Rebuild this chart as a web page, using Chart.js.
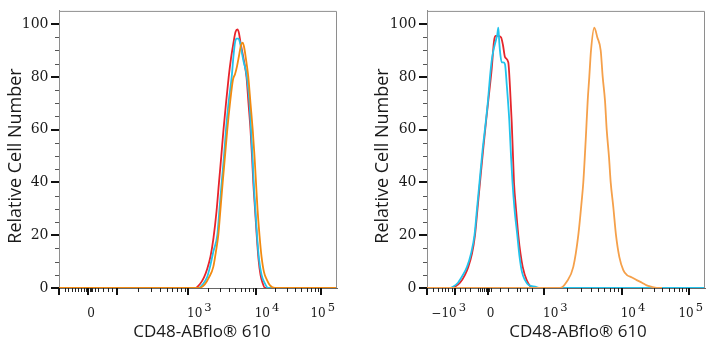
<!DOCTYPE html>
<html>
<head>
<meta charset="utf-8">
<script src="https://cdn.jsdelivr.net/npm/chart.js@4.4.1/dist/chart.umd.min.js"></script>
<style>
  html, body { margin: 0; padding: 0; background: #fff; }
  .wrap { display: flex; width: 719px; height: 350px; }
  .panel { position: relative; height: 350px; }
</style>
</head>
<body>
<div class="wrap">
  <div class="panel" style="width:360px"><canvas id="left-hist"></canvas></div>
  <div class="panel" style="width:359px"><canvas id="right-hist"></canvas></div>
</div>
<script>
// x is the display channel along the biexponential axis (0 .. 278)
const xMax = 278;
const yMax = 105;
const yTickValues = [0, 20, 40, 60, 80, 100];
const yMinorStep = 5;
const xTitle = "CD48-ABflo® 610";
const yTitle = "Relative Cell Number";

// left panel axis
const leftTickPos = [0, 29, 58, 129, 196.7, 262];
const leftTickText = ["", "0", "", "10^3", "10^4", "10^5"];
const leftDecades = [58, 129, 196.7, 262];
const leftMinor = [6, 9, 13, 16, 19, 22, 25, 26.5, 27.5, 30.5, 31.5, 33, 36, 39, 44, 49, 53];

// right panel axis
const rightTickPos = [0, 28, 60.5, 117, 194.7, 262];
const rightTickText = ["", "−10^3", "0", "10^3", "10^4", "10^5"];
const rightDecades = [117, 194.7, 262];
const rightMinor = [6, 11, 15, 18, 21, 25, 33, 38, 43, 51, 53, 55, 57, 58.5, 62, 63.5, 73, 81, 90, 93, 100, 105];

// histograms, [channel, relative count]
const leftRed = [[0, 0], [136, 0], [141, 1.5], [145, 4], [148, 7], [151.5, 12], [154.5, 19], [157.5, 29], [160, 40], [162.3, 50], [164.5, 60], [167, 70], [169.7, 80], [172, 87], [174.5, 93], [176.5, 97], [178.5, 98], [180, 96.5], [181.5, 93], [183, 90], [185, 86], [187.5, 80], [189.5, 70], [191.5, 60], [193, 50], [194.3, 40], [196, 30], [197.7, 20], [199.5, 11], [201.5, 5], [203.5, 2], [206, 0], [278, 0]];
const leftCyan = [[0, 0], [139, 0], [144, 1.5], [148, 4], [151, 8], [154.5, 14], [158.3, 20], [160.5, 30], [162.7, 40], [165, 50], [167, 60], [169.5, 70], [172.7, 80], [174.5, 88], [176, 93], [177.5, 94.5], [179.5, 94.5], [181, 93], [182.5, 90], [184.5, 86], [187, 82], [188.5, 78], [190.5, 70], [192, 60], [193.5, 50], [194.7, 40], [196.3, 30], [198, 20], [200, 11], [202.5, 5], [205.5, 2], [209, 0], [278, 0]];
const leftOrange = [[0, 0], [140, 0], [146, 1.5], [150, 4], [154.3, 8], [157, 14], [159.3, 20], [161.5, 30], [163.7, 40], [166, 50], [168.3, 60], [171, 70], [174, 79], [176, 81], [178, 84], [180, 88], [182, 92], [183.7, 93], [185, 91.5], [186.5, 88], [188, 84], [189.3, 80], [191.5, 70], [193.7, 60], [195.5, 50], [197, 40], [198.5, 30], [200.5, 20], [202.5, 12], [205, 6], [208, 3], [211, 1], [216, 0], [278, 0]];

const rightRed = [[0, 0], [24, 0], [28, 0.5], [33, 2], [38, 5], [41.3, 8], [45, 13], [48, 20], [50.5, 30], [53, 40], [56.3, 53], [59, 63], [61.3, 71], [64.7, 83], [67, 93.5], [68.5, 95.5], [71, 95.5], [74, 95], [76, 92], [78, 87.5], [81.3, 85.5], [83, 76], [84.7, 63], [86, 50], [87, 40], [89, 30], [91.3, 20], [93.5, 13], [95.7, 8], [99.7, 3], [106.3, 0], [278, 0]];
const rightCyan = [[0, 0], [22, 0], [26, 0.5], [31, 2], [36, 5], [40, 8], [44, 13], [47.5, 20], [50, 30], [52.5, 40], [55.5, 52], [58.5, 62], [61, 71], [63, 80], [65, 87], [67, 91], [69, 94], [70.3, 96], [71.3, 98.7], [72.3, 93], [73.5, 88], [74.7, 85.5], [76.3, 85.5], [78, 84.8], [79.7, 77.3], [82.3, 63.4], [84, 50], [85.5, 40], [87.5, 30], [90.3, 20], [92.5, 12], [95, 6], [98, 3], [102, 1], [108, 0.5], [113, 0], [278, 0]];
const rightOrange = [[0, 0], [133, 0], [139.7, 2.4], [146.3, 8], [151.3, 20], [154.7, 33], [156.3, 40], [158.7, 56], [160.7, 71], [162.3, 80], [164, 90], [167.3, 98.7], [170.3, 95], [173.7, 90], [175.7, 80], [178, 71], [179.7, 60], [182, 49.6], [183.7, 40], [186.3, 30.7], [189, 20], [192.3, 11.8], [196.3, 6.8], [199.7, 5], [205, 4], [209.7, 3], [215, 2], [219.7, 1], [224, 0.5], [229.7, 0], [235, 0]];

const toPoints = (pairs) => pairs.map(([x, y]) => ({ x, y }));

const flowAxes = {
  id: "flowAxes",
  afterDraw(chart, _args, o) {
    const { ctx, chartArea: a } = chart;
    const xs = chart.scales.x;
    const ys = chart.scales.y;
    ctx.save();

    // frame top / right
    ctx.strokeStyle = "#8e8e8e";
    ctx.lineWidth = 1;
    ctx.beginPath();
    ctx.moveTo(a.left, a.top + 0.5);
    ctx.lineTo(a.right - 0.5, a.top + 0.5);
    ctx.lineTo(a.right - 0.5, a.bottom);
    ctx.stroke();

    const mark = (x0, y0, x1, y1, w, c) => {
      ctx.strokeStyle = c;
      ctx.lineWidth = w;
      ctx.beginPath();
      ctx.moveTo(x0, y0);
      ctx.lineTo(x1, y1);
      ctx.stroke();
    };

    // x ticks
    const minors = o.minor.slice();
    for (let i = 0; i < o.decades.length - 1; i++) {
      const d0 = o.decades[i], d1 = o.decades[i + 1];
      for (let k = 2; k <= 9; k++) minors.push(d0 + Math.log10(k) * (d1 - d0));
    }
    minors.forEach((v) => {
      const px = Math.round(xs.getPixelForValue(v)) + 0.5;
      mark(px, a.bottom, px, a.bottom + 4, 1, "#222");
    });
    o.tickPos.forEach((v) => {
      const px = Math.round(xs.getPixelForValue(v));
      mark(px, a.bottom, px, a.bottom + 7, 2, "#111");
    });

    // y ticks
    for (let v = 0; v <= 100; v += yMinorStep) {
      const py = Math.round(ys.getPixelForValue(v));
      if (v % 20 === 0) mark(a.left - 8, py, a.left, py, 2, "#111");
      else mark(a.left - 4, py + 0.5, a.left, py + 0.5, 1, "#555");
    }

    // x tick labels, exponent raised
    ctx.fillStyle = "#1a1a1a";
    ctx.textBaseline = "alphabetic";
    ctx.textAlign = "left";
    o.tickText.forEach((txt, i) => {
      if (!txt) return;
      const px = xs.getPixelForValue(o.tickPos[i]);
      const [base, exp] = txt.split("^");
      ctx.font = "12px 'DejaVu Serif'";
      const wb = ctx.measureText(base).width;
      ctx.font = "11.5px 'DejaVu Serif'";
      const we = exp ? ctx.measureText(exp).width + 2 : 0;
      let left;
      if (!exp) left = px + 3 - wb / 2;
      else if (base.startsWith("−")) left = px + 11 - wb - we;
      else left = px - 1;
      left = Math.min(left, a.right - 2 - wb - we);
      ctx.font = "12px 'DejaVu Serif'";
      ctx.fillText(base, left, 317);
      if (exp) {
        ctx.font = "11.5px 'DejaVu Serif'";
        ctx.fillText(exp, left + wb + 2, 311);
      }
    });

    // axis titles
    ctx.textAlign = "center";
    ctx.textBaseline = "middle";
    ctx.font = "17px 'Open Sans'";
    ctx.fillText(xTitle, a.left + o.xTitleX, 332);
    ctx.save();
    ctx.translate(o.yTitleX, 156);
    ctx.rotate(-Math.PI / 2);
    ctx.font = "18px 'Open Sans'";
    ctx.fillText(yTitle, 0, 0);
    ctx.restore();

    ctx.restore();
  },
};

function makeChart(id, sets, axis, yAxisWidth, padRight) {
  const canvas = document.getElementById(id);
  if (!canvas) return;
  new Chart(canvas, {
    type: "line",
    data: {
      datasets: sets.map((s) => ({
        data: toPoints(s.data),
        borderColor: s.color,
        borderWidth: 1.8,
        pointRadius: 0,
        fill: false,
        cubicInterpolationMode: "monotone",
      })),
    },
    options: {
      responsive: true,
      maintainAspectRatio: false,
      animation: false,
      events: [],
      layout: { padding: { top: 10, right: padRight, left: 0, bottom: 0 } },
      plugins: { legend: { display: false }, tooltip: { enabled: false }, flowAxes: axis },
      scales: {
        x: {
          type: "linear",
          min: 0,
          max: xMax,
          ticks: { display: false },
          grid: { display: false },
          border: { display: true, color: "#666", width: 1 },
          afterBuildTicks(scale) { scale.ticks = []; },
          afterFit(scale) { scale.height = 62; },
        },
        y: {
          min: 0,
          max: yMax,
          afterBuildTicks(scale) { scale.ticks = yTickValues.map((v) => ({ value: v })); },
          afterFit(scale) { scale.width = yAxisWidth; },
          ticks: {
            color: "#1a1a1a",
            padding: 2.5,
            font: { family: "'DejaVu Serif'", size: 14 },
          },
          grid: { display: true, drawOnChartArea: false, drawTicks: true, tickLength: 8, color: "rgba(0,0,0,0)" },
          border: { display: true, color: "#8e8e8e", width: 1 },
        },
      },
    },
    plugins: [flowAxes],
  });
}

makeChart(
  "left-hist",
  [
    { data: leftOrange, color: "#f28a10" },
    { data: leftCyan, color: "#22c3ec" },
    { data: leftRed, color: "#e8232b" },
  ],
  { tickPos: leftTickPos, tickText: leftTickText, decades: leftDecades, minor: leftMinor, xTitleX: 143, yTitleX: 16 },
  59, 23
);

makeChart(
  "right-hist",
  [
    { data: rightOrange, color: "#f5a04a" },
    { data: rightCyan, color: "#22c3ec" },
    { data: rightRed, color: "#e5262c" },
  ],
  { tickPos: rightTickPos, tickText: rightTickText, decades: rightDecades, minor: rightMinor, xTitleX: 151, yTitleX: 22.5 },
  67, 14
);
</script>
</body>
</html>
